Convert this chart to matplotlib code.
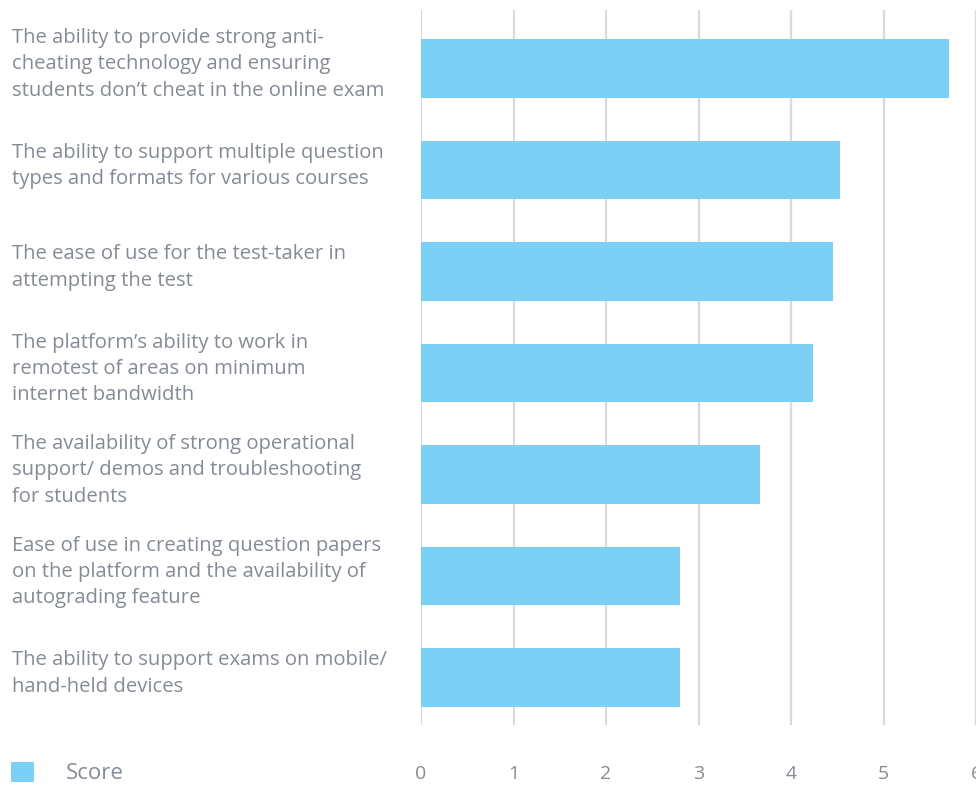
import matplotlib
matplotlib.use('Agg')
import matplotlib.pyplot as plt
from matplotlib.patches import Patch

plt.rcParams['font.family'] = ['Open Sans', 'DejaVu Sans']

labels = [
    'The ability to provide strong anti-\ncheating technology and ensuring\nstudents don\u2019t cheat in the online exam',
    'The ability to support multiple question\ntypes and formats for various courses',
    'The ease of use for the test-taker in\nattempting the test',
    'The platform\u2019s ability to work in\nremotest of areas on minimum\ninternet bandwidth',
    'The availability of strong operational\nsupport/ demos and troubleshooting\nfor students',
    'Ease of use in creating question papers\non the platform and the availability of\nautograding feature',
    'The ability to support exams on mobile/\nhand-held devices',
]
scores = [5.73, 4.55, 4.47, 4.26, 3.69, 2.82, 2.82]
xticks = [0, 1, 2, 3, 4, 5, 6]

bar_color = '#7dd0f5'
text_color = '#858b95'
grid_color = '#d6dae1'

fig = plt.figure(figsize=(9.76, 7.85), dpi=100)
ax = fig.add_axes([421 / 976, 60 / 785, 555 / 976, 715 / 785])

pos = list(range(len(labels)))
ax.barh(pos, scores, height=0.58, color=bar_color, left=-0.02, zorder=2)

ax.set_xlim(0, 6)
ax.set_ylim(6.468, -0.576)
ax.set_xticks(xticks)
ax.set_xticklabels([str(t) for t in xticks])
ax.set_yticks([])
ax.tick_params(axis='x', length=0, pad=29, labelsize=14, labelcolor=text_color)
ax.grid(axis='x', color=grid_color, linewidth=1.6, zorder=0)
for s in ax.spines.values():
    s.set_visible(False)

trans = matplotlib.transforms.blended_transform_factory(fig.transFigure, ax.transData)
for p, lab in zip(pos, labels):
    ax.text(12 / 976, p - 0.04, lab, transform=trans, ha='left', va='center',
            fontsize=14.6, color=text_color, linespacing=1.42)

handle = Patch(facecolor=bar_color, edgecolor='none')
fig.legend([handle], ['Score'], loc='center left', bbox_to_anchor=(11 / 976, 1 - 773 / 785),
           frameon=False, fontsize=16, labelcolor=text_color, handlelength=1.05,
           handleheight=1.05, handletextpad=1.4, borderpad=0, borderaxespad=0)

fig.savefig('out.png', dpi=100)
